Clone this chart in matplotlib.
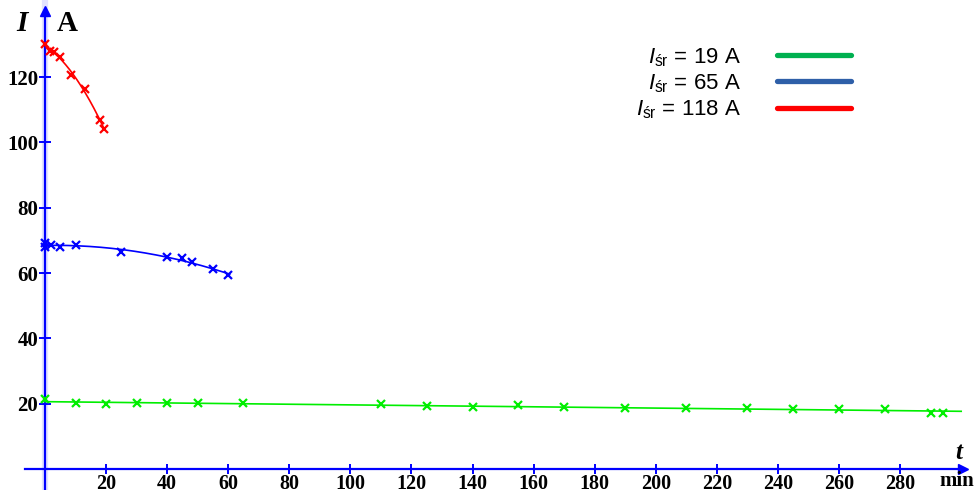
"""
Current decay I(t) for three mean currents (19 A, 65 A, 118 A).
Writes: out.png (978x490)
"""

import numpy as np
import matplotlib
matplotlib.use("Agg")
import matplotlib.pyplot as plt
from matplotlib.lines import Line2D

plt.rcParams.update({
    "font.family":       "serif",
    "font.serif":        ["Liberation Serif", "DejaVu Serif"],
    "mathtext.fontset":  "custom",
    "mathtext.rm":       "Liberation Sans",
    "mathtext.it":       "Liberation Sans:italic",
})

# --- data (t in min, I in A) ---
t_19 = [0, 10, 20, 30, 40, 50, 65, 110, 125, 140, 155, 170, 190, 210,
        230, 245, 260, 275, 290, 294]
i_19 = [21.5, 20.1, 19.8, 20.1, 20.1, 20.1, 20.1, 19.8, 19.4, 19.1,
        19.6, 19.1, 18.8, 18.6, 18.6, 18.4, 18.3, 18.3, 17.3, 17.1]

t_65 = [0, 0, 2, 5, 10, 25, 40, 45, 48, 55, 60]
i_65 = [69.2, 68.0, 68.6, 68.1, 68.6, 66.4, 65.0, 64.5, 63.3, 61.4, 59.3]

t_118 = [0, 1.5, 3, 5, 8.5, 13, 18, 19.3]
i_118 = [130.0, 128.1, 127.6, 126.3, 120.6, 116.3, 106.8, 104.1]

# extent of each fitted trend curve (min)
fit_end = {"19": 300, "65": 60.5, "118": 19.3}

SERIES = [
    ("19",  t_19,  i_19,  1, "#00ee00"),
    ("65",  t_65,  i_65,  2, "#0000ff"),
    ("118", t_118, i_118, 2, "#ff0000"),
]
LEGEND_COLORS = {"19": "#00b050", "65": "#2e5fa8", "118": "#ff0000"}

AXIS_BLUE = "#0000ff"

fig = plt.figure(figsize=(9.78, 4.90), dpi=100)
ax = fig.add_axes([0, 0, 1, 1])
ax.set_xlim(-14.73, 305.5)
ax.set_ylim(-6.4, 143.6)
ax.patch.set_visible(False)

for key, t, i, deg, col in SERIES:
    coef = np.polyfit(t, i, deg)
    tt = np.linspace(0, fit_end[key], 200)
    ax.plot(tt, np.polyval(coef, tt), color=col, lw=1.2, zorder=3)
    ax.plot(t, i, linestyle="none", marker="x", color=col,
            markersize=6, markeredgewidth=1.6, zorder=4)

# axes through the origin, blue, with arrow heads
for side in ("top", "right"):
    ax.spines[side].set_visible(False)
ax.spines["left"].set_position(("data", 0))
ax.spines["bottom"].set_position(("data", 0))
ax.spines["left"].set_bounds(-6.4, 139.5)
ax.spines["bottom"].set_bounds(-6.5, 299.5)
for side in ("left", "bottom"):
    ax.spines[side].set_color(AXIS_BLUE)
    ax.spines[side].set_linewidth(1.6)
ax.axvline(0, color="#e2e2ff", lw=4.5, zorder=0)
ax.plot(0, 140.2, marker="^", color=AXIS_BLUE, markersize=7, clip_on=False)
ax.plot(300.5, 0, marker=">", color=AXIS_BLUE, markersize=7, clip_on=False)

ax.set_xticks(np.arange(20, 281, 20))
ax.set_yticks(np.arange(20, 121, 20))
ax.tick_params(axis="both", colors=AXIS_BLUE, direction="inout",
               width=1.4, labelcolor="black", labelsize=15)
ax.tick_params(axis="x", length=7, pad=0, labelsize=14.5)
ax.tick_params(axis="y", length=8, pad=1)
for lab in ax.get_xticklabels() + ax.get_yticklabels():
    lab.set_fontweight("bold")

# axis names
ax.text(-7.5, 136.5, "I", fontsize=21, fontstyle="italic", fontweight="bold",
        ha="center", va="center")
ax.text(7.2, 136.5, "A", fontsize=21, fontweight="bold",
        ha="center", va="center")
ax.text(299.2, 5.0, "t", fontsize=18, fontstyle="italic", fontweight="bold",
        ha="center", va="center")
ax.text(298.6, -3.6, "min", fontsize=15, fontweight="bold",
        ha="center", va="center")

# legend: text first, coloured sample line after it
handles = [Line2D([], [], color=LEGEND_COLORS[k], lw=3.8,
                  solid_capstyle="round") for k, *_ in SERIES]
labels = [rf"$I_{{\mathrm{{śr}}}}$ = {k} A" for k, *_ in SERIES]
leg = ax.legend(handles, labels, loc="upper left",
                bbox_to_anchor=(636 / 978, 1 - 46 / 490),
                markerfirst=False, frameon=False,
                handlelength=3.35, handletextpad=1.6, labelspacing=0.16,
                borderpad=0, borderaxespad=0,
                prop={"family": "Liberation Sans", "size": 16})

fig.savefig("out.png", dpi=100)
